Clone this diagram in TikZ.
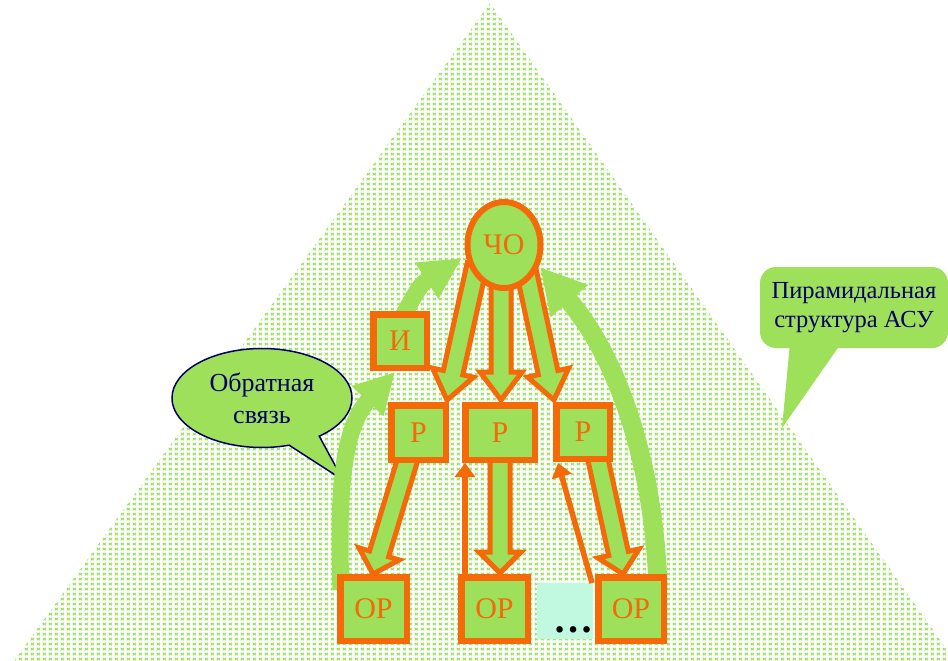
\documentclass[tikz,border=0pt]{standalone}
\usepackage{fontspec}
\setmainfont{Liberation Serif}
\newfontfamily\serifface{Liberation Serif}
\usetikzlibrary{calc,arrows.meta,patterns,shapes.geometric,shapes.callouts}

\definecolor{leaf}{RGB}{158,224,90}
\definecolor{flame}{RGB}{244,106,8}
\definecolor{ink}{RGB}{0,0,102}
\definecolor{mint}{RGB}{192,248,224}
\definecolor{hatch}{RGB}{152,220,92}

% small cross-hatch texture for the pyramid
\pgfdeclarepatternformonly{tinyx}{\pgfqpoint{0pt}{0pt}}{\pgfqpoint{6pt}{5pt}}{\pgfqpoint{6pt}{5pt}}{%
  \pgfsetlinewidth{1pt}%
  \pgfpathmoveto{\pgfqpoint{0.8pt}{0.8pt}}\pgfpathlineto{\pgfqpoint{4.8pt}{3.8pt}}%
  \pgfpathmoveto{\pgfqpoint{0.8pt}{3.8pt}}\pgfpathlineto{\pgfqpoint{4.8pt}{0.8pt}}%
  \pgfusepath{stroke}}

% outlined block arrow from #1 to #2 with head length #3
\newcommand\fatarrow[3]{%
  \draw[fat] ($(#1)!10pt!90:(#2)$)
    -- ($(#2)!#3!(#1)!10pt!-90:(#1)$)
    -- ($(#2)!#3!(#1)!21pt!-90:(#1)$)
    -- (#2)
    -- ($(#2)!#3!(#1)!21pt!90:(#1)$)
    -- ($(#2)!#3!(#1)!10pt!90:(#1)$)
    -- ($(#1)!10pt!-90:(#2)$) -- cycle;}

\tikzset{
  fat/.style={draw=flame, fill=leaf, line width=5pt, line join=miter, miter limit=10},
  box/.style={draw=flame, fill=leaf, line width=6.5pt, text=flame, inner sep=0pt,
    font=\serifface\fontsize{30}{30}\selectfont},
  feedback/.style={draw=leaf, line width=17pt},
  thinarrow/.style={draw=flame, line width=5.5pt, -{Triangle[length=14pt,width=20pt]}},
  note/.style={text=ink, align=center, font=\serifface\fontsize{26}{32}\selectfont},
}

\begin{document}
\begin{tikzpicture}[x=1pt, y=-1pt]
\useasboundingbox (0,0) rectangle (948,661);
\clip (0,0) rectangle (948,661);

% pyramid
\fill[pattern=tinyx, pattern color=hatch] (490,3) -- (955,661) -- (14,661) -- cycle;

% callouts
\coordinate (fbtip) at (343,480);
\node (fb) [note, ellipse callout, draw=ink, line width=1.5pt, fill=leaf,
  minimum width=180pt, minimum height=99pt, inner sep=0pt,
  callout absolute pointer={(fbtip)}, callout pointer arc=22] at (262,398)
  {Обратная\\связь};

\node (pyr) [note, font=\serifface\fontsize{24.5}{29}\selectfont, fill=leaf,
  rounded corners=16pt, minimum width=188pt, minimum height=81pt, inner sep=0pt]
  at (854,307.5) {Пирамидальная\\структура АСУ};
\coordinate (pyrtip) at (782,428);
\fill[leaf] ($(pyr.south west)+(30,-3)$) -- (pyrtip) -- ($(pyr.south west)+(80,-3)$) -- cycle;

% feedback arcs
\coordinate (gl0) at (341,590);
\coordinate (gl1) at (395,372);
\coordinate (gu0) at (398,325);
\coordinate (gu1) at (462,258);
\coordinate (gr0) at (658,590);
\coordinate (gr1) at (540,267);
\draw[feedback, -{Triangle[length=40pt,width=41pt]}] (gl0) .. controls (337,480) and (345,425) .. (gl1);
\draw[feedback, -{Triangle[length=42pt,width=40pt]}] (gu0) .. controls (420,285) .. (gu1);
\draw[feedback, line width=19pt, -{Triangle[length=45pt,width=46pt]}] (gr0) .. controls (655,470) and (620,360) .. (gr1);

% block arrows: operator -> controllers -> plants
\coordinate (a1s) at (477,265); \coordinate (a1e) at (447,400);
\coordinate (a2s) at (501,265); \coordinate (a2e) at (501,400);
\coordinate (a3s) at (525,265); \coordinate (a3e) at (554,400);
\coordinate (b1s) at (409,455); \coordinate (b1e) at (373,574);
\coordinate (b2s) at (500,455); \coordinate (b2e) at (500,573);
\coordinate (b3s) at (597,455); \coordinate (b3e) at (623,574);
\fatarrow{a1s}{a1e}{28pt}
\fatarrow{a2s}{a2e}{28pt}
\fatarrow{a3s}{a3e}{28pt}
\fatarrow{b1s}{b1e}{21pt}
\fatarrow{b2s}{b2e}{21pt}
\fatarrow{b3s}{b3e}{21pt}

% continuation placeholder
\node (more) [fill=mint, minimum width=56pt, minimum height=56pt, inner sep=0pt] at (565,611) {};
\node (dots) [anchor=base, font=\serifface\fontsize{40}{40}\selectfont\bfseries] at (573,632) {…};

% return links
\coordinate (t1s) at (465,576); \coordinate (t1e) at (465,463);
\coordinate (t2s) at (592,583); \coordinate (t2e) at (558,463);
\draw[thinarrow] (t1s) -- (t1e);
\draw[thinarrow] (t2s) -- (t2e);

% operator, informer, controllers, plants
\node (cho) [box, ellipse, line width=6pt, minimum width=73pt, minimum height=86pt] at (504,245) {ЧО};
\node (inf) [box, minimum width=53.5pt, minimum height=53.5pt] at (400,341) {И};
\node (p1) [box, minimum width=54.5pt, minimum height=54.5pt] at (418.5,432.5) {Р};
\node (p2) [box, minimum width=69.5pt, minimum height=54.5pt] at (500,432.5) {Р};
\node (p3) [box, minimum width=53.5pt, minimum height=53.5pt] at (583,432) {Р};
\node (op1) [box, minimum width=66.5pt, minimum height=63.5pt] at (373.5,609) {ОР};
\node (op2) [box, minimum width=66.5pt, minimum height=63.5pt] at (494.5,609) {ОР};
\node (op3) [box, minimum width=65.5pt, minimum height=63.5pt] at (631,609) {ОР};
\end{tikzpicture}
\end{document}
